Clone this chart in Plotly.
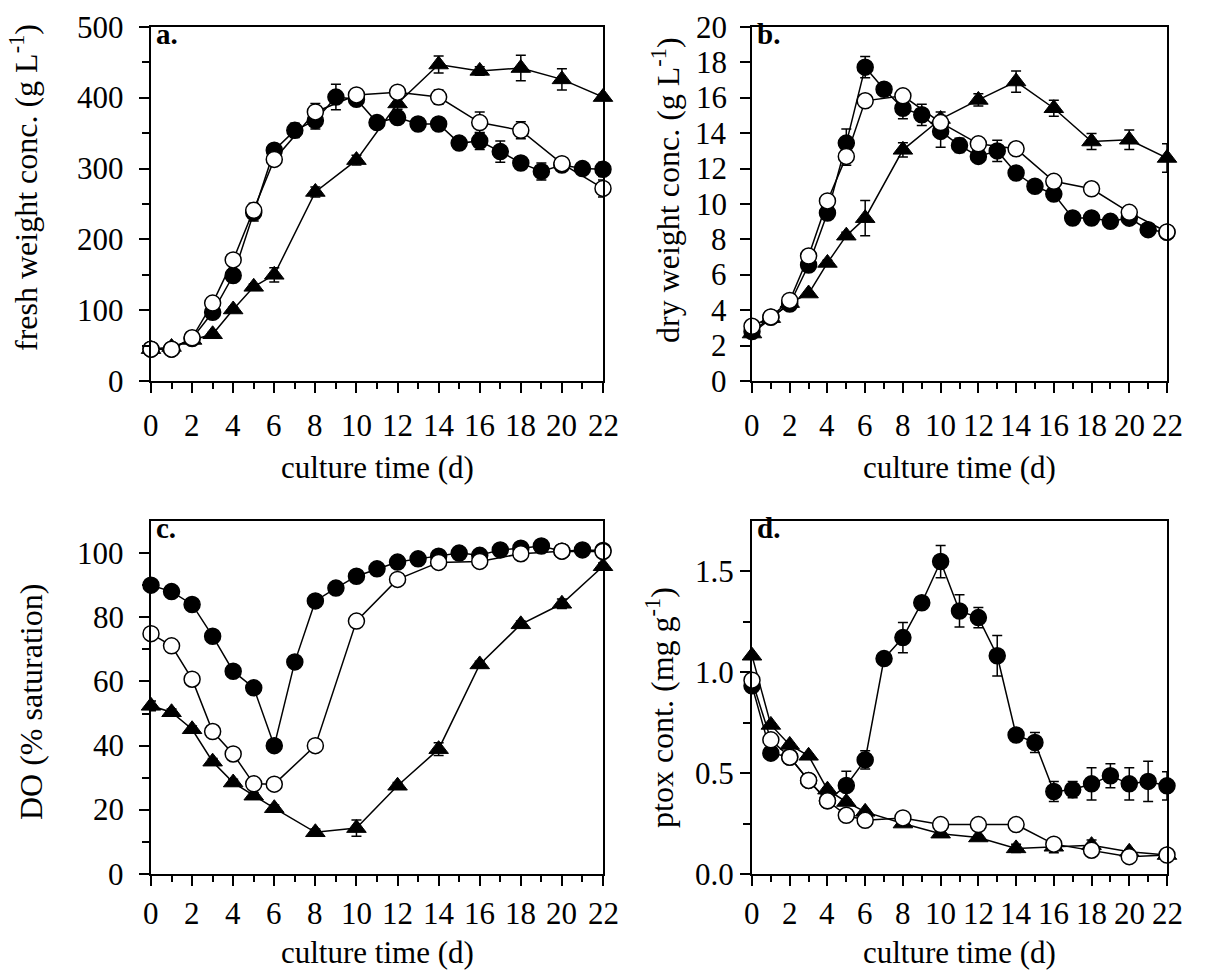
import plotly.graph_objects as go

W, H = 1231, 972

# ---------------- data ----------------
days_all = list(range(23))
days_sub = [0, 1, 2, 3, 4, 5, 6, 8, 10, 12, 14, 16, 18, 20, 22]

# a. fresh weight conc. (g/L)
fw_filled = [45, 45, 60, 97, 149, 238, 326, 354, 368, 401, 398, 365, 372, 363, 363, 336, 339, 324, 308, 296, 305, 300, 299]
fw_filled_err = [3, 3, 3, 4, 4, 12, 8, 10, 12, 18, 5, 8, 5, 4, 4, 8, 12, 15, 6, 12, 6, 4, 10]
fw_open = [45, 45, 61, 110, 171, 241, 313, 380, 404, 408, 401, 365, 354, 307, 272]
fw_open_err = [2, 2, 2, 3, 4, 10, 6, 12, 5, 5, 10, 15, 12, 5, 12]
fw_tri = [45, 48, 58, 66, 101, 133, 150, 267, 312, 392, 447, 438, 442, 426, 401]
fw_tri_err = [2, 2, 2, 3, 3, 4, 10, 7, 7, 8, 12, 6, 18, 15, 4]

# b. dry weight conc. (g/L)
dw_filled = [2.8, 3.6, 4.35, 6.55, 9.49, 13.44, 17.73, 16.48, 15.41, 15.04, 14.1, 13.31, 12.69, 13.0, 11.75, 11.0, 10.56, 9.21, 9.21, 9.02, 9.2, 8.55, 8.4]
dw_filled_err = [0.1, 0.1, 0.1, 0.15, 0.2, 0.8, 0.6, 0.15, 0.6, 0.6, 0.9, 0.4, 0.2, 0.6, 0.15, 0.15, 0.2, 0.3, 0.2, 0.15, 0.2, 0.15, 0.2]
dw_open = [3.09, 3.62, 4.55, 7.06, 10.17, 12.69, 15.83, 16.11, 14.6, 13.4, 13.12, 11.28, 10.86, 9.53, 8.42]
dw_open_err = [0.1, 0.1, 0.1, 0.15, 0.2, 0.5, 0.2, 0.2, 0.3, 0.2, 0.2, 0.35, 0.15, 0.2, 0.2]
dw_tri = [2.68, 3.55, 4.4, 4.94, 6.67, 8.21, 9.2, 13.06, 14.8, 15.88, 16.92, 15.41, 13.53, 13.63, 12.6]
dw_tri_err = [0.1, 0.1, 0.1, 0.1, 0.15, 0.2, 1.0, 0.4, 0.4, 0.35, 0.6, 0.45, 0.45, 0.55, 0.8]

# c. DO (% saturation)
do_filled = [90, 88, 84, 74.1, 63.2, 58, 40, 66.1, 85.1, 89.1, 92.8, 95.1, 97.2, 98.2, 99, 100, 99.3, 101, 101.5, 102.2, 100.6, 101, 100.8]
do_filled_err = [0.5, 0.5, 0.5, 0.5, 0.5, 0.5, 1.5, 0.5, 0.5, 0.5, 0.5, 0.5, 0.5, 0.5, 0.5, 0.5, 0.5, 0.5, 0.5, 0.5, 0.5, 0.5, 0.5]
do_open = [74.9, 71.1, 60.7, 44.4, 37.4, 28.1, 28.0, 40, 78.8, 91.8, 97.1, 97.4, 99.8, 100.6, 100.5]
do_open_err = [0.5] * 15
do_tri = [52.4, 50.4, 45.1, 35.0, 28.5, 24.4, 20.5, 13, 14.3, 27.5, 38.9, 65.3, 77.8, 84.2, 95.9]
do_tri_err = [1.5, 1, 1, 1, 1, 1, 1, 1, 2.5, 1, 2, 1, 1, 1.5, 1]

# d. ptox cont. (mg/g)
px_filled = [0.933, 0.599, 0.58, 0.464, 0.363, 0.439, 0.566, 1.068, 1.172, 1.345, 1.549, 1.304, 1.271, 1.082, 0.689, 0.652, 0.409, 0.418, 0.447, 0.487, 0.447, 0.459, 0.437]
px_filled_err = [0.01, 0.01, 0.01, 0.01, 0.01, 0.07, 0.045, 0.01, 0.075, 0.03, 0.08, 0.08, 0.05, 0.1, 0.02, 0.05, 0.05, 0.04, 0.08, 0.06, 0.08, 0.1, 0.07]
px_open = [0.961, 0.665, 0.579, 0.464, 0.363, 0.291, 0.266, 0.278, 0.245, 0.245, 0.245, 0.148, 0.118, 0.086, 0.094]
px_open_err = [0.01] * 15
px_tri = [1.082, 0.739, 0.64, 0.586, 0.418, 0.357, 0.308, 0.25, 0.2, 0.181, 0.127, 0.135, 0.143, 0.11, 0.094]
px_tri_err = [0.01, 0.01, 0.01, 0.01, 0.01, 0.01, 0.01, 0.01, 0.01, 0.01, 0.02, 0.03, 0.025, 0.01, 0.01]

x_ticks = list(range(0, 23, 2))
x_minor = list(range(1, 23, 2))
FONT = "Liberation Serif"

# ---------------- layout geometry (pixels) ----------------
def fx(p):
    return p / W

def fy(p):
    return 1 - p / H

panels = [
    # (x0, x1, ytop, ybottom)
    (151, 603, 27, 381),
    (752, 1167, 27, 381),
    (151, 603, 521, 874),
    (752, 1167, 521, 874),
]
ylab_right = [125, 728, 125, 735]     # right edge of y tick labels
xlab_center = [426, 426, 913, 913]    # vertical centre of x tick labels
xtitle_center = [467, 467, 952, 952]

fig = go.Figure()

series = [
    (fw_filled, fw_filled_err, fw_open, fw_open_err, fw_tri, fw_tri_err),
    (dw_filled, dw_filled_err, dw_open, dw_open_err, dw_tri, dw_tri_err),
    (do_filled, do_filled_err, do_open, do_open_err, do_tri, do_tri_err),
    (px_filled, px_filled_err, px_open, px_open_err, px_tri, px_tri_err),
]

def err(vals):
    return dict(type="data", array=vals, visible=True, color="black", thickness=1.5, width=5)

for i, (f, fe, o, oe, t, te) in enumerate(series):
    xa = "x" if i == 0 else f"x{i+1}"
    ya = "y" if i == 0 else f"y{i+1}"
    common = dict(xaxis=xa, yaxis=ya, mode="lines+markers", cliponaxis=False,
                  line=dict(color="black", width=1.5), showlegend=False)
    fig.add_trace(go.Scatter(x=days_all, y=f, error_y=err(fe),
                             marker=dict(symbol="circle", size=16, color="black",
                                         line=dict(color="black", width=1.5)), **common))
    fig.add_trace(go.Scatter(x=days_sub, y=t, error_y=err(te),
                             marker=dict(symbol="triangle-up", size=17, color="black",
                                         line=dict(color="black", width=1)), **common))
    fig.add_trace(go.Scatter(x=days_sub, y=o, error_y=err(oe),
                             marker=dict(symbol="circle", size=16, color="white",
                                         line=dict(color="black", width=1.5)), **common))

tickfont = dict(family=FONT, size=31, color="black")

def xaxis(i):
    x0, x1, yt, yb = panels[i]
    return dict(domain=[fx(x0), fx(x1)], anchor="y" if i == 0 else f"y{i+1}",
                range=[0, 22], tickmode="array", tickvals=x_ticks, showticklabels=False,
                showline=True, linecolor="black", linewidth=1.5, mirror=True,
                ticks="outside", ticklen=10, tickwidth=1.5, tickcolor="black",
                minor=dict(tickmode="array", tickvals=x_minor, ticks="outside",
                           ticklen=6, tickwidth=1.5, tickcolor="black", showgrid=False),
                showgrid=False, zeroline=False, automargin=False)

y_specs = [
    dict(range=[0, 500], tickvals=[0, 100, 200, 300, 400, 500], ticktext=["0", "100", "200", "300", "400", "500"],
         minor=[50, 150, 250, 350, 450]),
    dict(range=[0, 20], tickvals=list(range(0, 21, 2)), ticktext=[str(v) for v in range(0, 21, 2)], minor=[]),
    dict(range=[0, 110], tickvals=[0, 20, 40, 60, 80, 100], ticktext=["0", "20", "40", "60", "80", "100"],
         minor=[10, 30, 50, 70, 90]),
    dict(range=[0, 1.75], tickvals=[0, 0.5, 1.0, 1.5], ticktext=["0.0", "0.5", "1.0", "1.5"],
         minor=[0.25, 0.75, 1.25]),
]

def yaxis(i):
    x0, x1, yt, yb = panels[i]
    s = y_specs[i]
    d = dict(domain=[fy(yb), fy(yt)], anchor="x" if i == 0 else f"x{i+1}",
             range=s["range"], tickmode="array", tickvals=s["tickvals"],
             showticklabels=False,
             showline=True, linecolor="black", linewidth=1.5, mirror=True,
             ticks="outside", ticklen=10, tickwidth=1.5, tickcolor="black",
             showgrid=False, zeroline=False, automargin=False)
    if s["minor"]:
        d["minor"] = dict(tickmode="array", tickvals=s["minor"], ticks="outside", ticklen=7,
                          tickwidth=1.5, tickcolor="black", showgrid=False)
    return d

layout = dict(width=W, height=H, margin=dict(l=0, r=0, t=0, b=0, autoexpand=False),
              paper_bgcolor="white", plot_bgcolor="white",
              font=dict(family=FONT, color="black"))
for i in range(4):
    layout["xaxis" if i == 0 else f"xaxis{i+1}"] = xaxis(i)
    layout["yaxis" if i == 0 else f"yaxis{i+1}"] = yaxis(i)

annotations = []
# tick labels placed on each axis' own data scale
for i, s in enumerate(y_specs):
    yref = "y" if i == 0 else f"y{i+1}"
    xref = "x" if i == 0 else f"x{i+1}"
    for v, t in zip(s["tickvals"], s["ticktext"]):
        annotations.append(dict(text=t, xref="paper", yref=yref, x=fx(ylab_right[i]), y=v,
                                xanchor="right", yanchor="middle", showarrow=False,
                                font=tickfont, borderpad=0))
    for v in x_ticks:
        annotations.append(dict(text=str(v), xref=xref, yref="paper", x=v, y=fy(xlab_center[i]),
                                xanchor="center", yanchor="middle", showarrow=False,
                                font=tickfont, borderpad=0))

title_font = dict(family=FONT, size=31, color="black")
# x titles
for i, (x0, x1, yt, yb) in enumerate(panels):
    annotations.append(dict(text="culture time (d)", xref="paper", yref="paper",
                            x=fx((x0 + x1) / 2), y=fy(xtitle_center[i]), xanchor="center", yanchor="middle",
                            showarrow=False, font=title_font, borderpad=0))
# y titles
ytitles = [
    ("fresh weight conc. (g L<sup>-1</sup>)", 24, 188),
    ("dry weight conc. (g L<sup>-1</sup>)", 666, 190),
    ("DO (% saturation)", 31, 702),
    ("ptox cont. (mg g<sup>-1</sup>)", 660, 708),
]
for text, xc, yc in ytitles:
    annotations.append(dict(text=text, xref="paper", yref="paper", x=fx(xc), y=fy(yc),
                            xanchor="center", yanchor="middle", textangle=-90,
                            showarrow=False, font=dict(family=FONT, size=32, color="black"),
                            borderpad=0))
# panel labels
for lab, (x0, x1, yt, yb) in zip(["a.", "b.", "c.", "d."], panels):
    annotations.append(dict(text="<b>%s</b>" % lab, xref="paper", yref="paper",
                            x=fx(x0 + 3), y=fy(yt - 11), xanchor="left", yanchor="top",
                            showarrow=False, font=dict(family=FONT, size=29, color="black")))
layout["annotations"] = annotations

fig.update_layout(**layout)
fig.write_html("out.html")
